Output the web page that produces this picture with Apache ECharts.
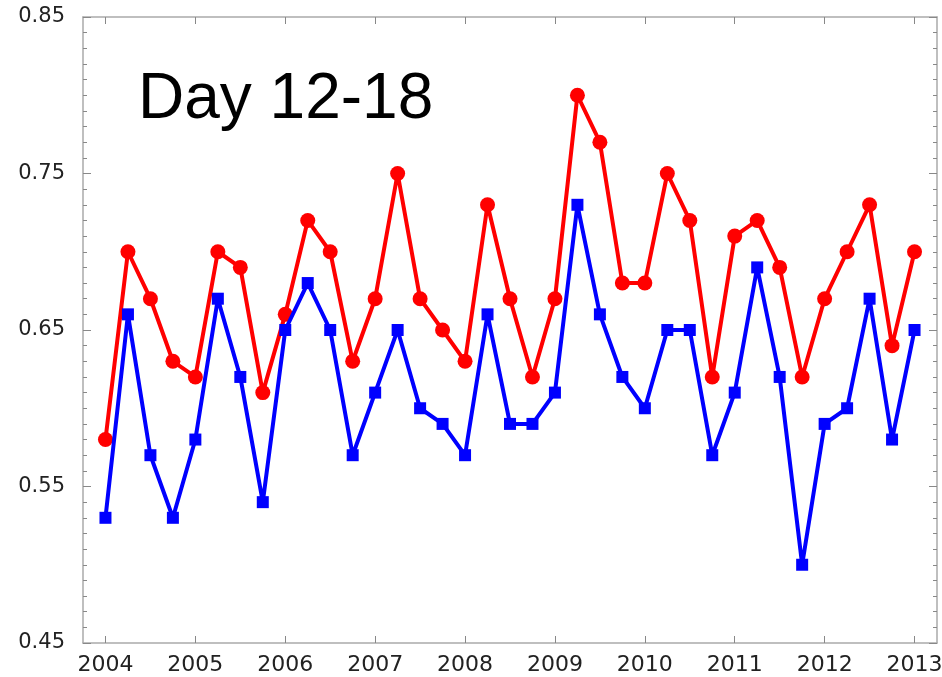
<!DOCTYPE html>
<html>
<head>
<meta charset="utf-8">
<script src="https://cdn.jsdelivr.net/npm/echarts@6/dist/echarts.min.js"></script>
<style>html,body{margin:0;padding:0;background:#fff;}#c{width:942px;height:677px;}</style>
</head>
<body>
<div id="c"></div>
<script>
const titleText = 'Day 12-18';
const quarters = [2004, 2004.25, 2004.5, 2004.75, 2005, 2005.25, 2005.5, 2005.75, 2006, 2006.25, 2006.5, 2006.75,
  2007, 2007.25, 2007.5, 2007.75, 2008, 2008.25, 2008.5, 2008.75, 2009, 2009.25, 2009.5, 2009.75,
  2010, 2010.25, 2010.5, 2010.75, 2011, 2011.25, 2011.5, 2011.75, 2012, 2012.25, 2012.5, 2012.75, 2013];
const redValues = [0.58, 0.70, 0.67, 0.63, 0.62, 0.70, 0.69, 0.61, 0.66, 0.72, 0.70, 0.63,
  0.67, 0.75, 0.67, 0.65, 0.63, 0.73, 0.67, 0.62, 0.67, 0.80, 0.77, 0.68,
  0.68, 0.75, 0.72, 0.62, 0.71, 0.72, 0.69, 0.62, 0.67, 0.70, 0.73, 0.64, 0.70];
const blueValues = [0.53, 0.66, 0.57, 0.53, 0.58, 0.67, 0.62, 0.54, 0.65, 0.68, 0.65, 0.57,
  0.61, 0.65, 0.60, 0.59, 0.57, 0.66, 0.59, 0.59, 0.61, 0.73, 0.66, 0.62,
  0.60, 0.65, 0.65, 0.57, 0.61, 0.69, 0.62, 0.50, 0.59, 0.60, 0.67, 0.58, 0.65];
const yearTicks = [2004, 2005, 2006, 2007, 2008, 2009, 2010, 2011, 2012, 2013];

const chart = echarts.init(document.getElementById('c'), null, {renderer: 'canvas'});
const axisGray = '#aaaaaa';
const tickGray = '#888888';
const labelFont = '"DejaVu Sans", "Liberation Sans", sans-serif';
const baseX = {
  type: 'value', min: 2003.75, max: 2013.25, interval: 0.25,
  axisLine: {show: true, onZero: false, lineStyle: {color: axisGray, width: 1.5}},
  splitLine: {show: false},
};
const baseY = {
  type: 'value', min: 0.45, max: 0.85, interval: 0.1,
  axisLine: {show: true, onZero: false, lineStyle: {color: axisGray, width: 1.5}},
  axisTick: {show: true, inside: true, length: 8, lineStyle: {color: tickGray, width: 1}},
  minorTick: {show: true, splitNumber: 10, length: 4, lineStyle: {color: tickGray, width: 1}},
  splitLine: {show: false},
};
chart.setOption({
  animation: false,
  backgroundColor: '#fff',
  grid: {left: 83, right: 5, top: 17, bottom: 34, containLabel: false, outerBoundsMode: 'none'},
  graphic: [{
    type: 'text', left: 138, top: 68,
    style: {text: titleText, font: '64px "Liberation Sans", Arial, sans-serif', fill: '#000'}
  }],
  xAxis: [
    Object.assign({}, baseX, {
      position: 'bottom',
      axisTick: {show: true, inside: true, length: 7, customValues: yearTicks, lineStyle: {color: tickGray}},
      axisLabel: {show: true, customValues: yearTicks, margin: 11, color: '#222',
        fontFamily: labelFont, fontSize: 22, hideOverlap: false,
        formatter: v => String(Math.round(v))}
    }),
    Object.assign({}, baseX, {
      position: 'top',
      axisTick: {show: true, inside: true, length: 7, customValues: yearTicks, lineStyle: {color: tickGray}},
      axisLabel: {show: false}
    })
  ],
  yAxis: [
    Object.assign({}, baseY, {
      position: 'left',
      axisLabel: {show: true, margin: 18, color: '#222',
        fontFamily: labelFont, fontSize: 21,
        formatter: v => v.toFixed(2)}
    }),
    Object.assign({}, baseY, {
      position: 'right',
      axisLabel: {show: false}
    })
  ],
  series: [
    {
      type: 'line', name: 'red', xAxisIndex: 0, yAxisIndex: 0, z: 2,
      data: quarters.map((q, i) => [q, redValues[i]]),
      symbol: 'circle', symbolSize: 15,
      lineStyle: {color: '#ff0000', width: 4},
      itemStyle: {color: '#ff0000'}
    },
    {
      type: 'line', name: 'blue', xAxisIndex: 0, yAxisIndex: 0, z: 3,
      data: quarters.map((q, i) => [q, blueValues[i]]),
      symbol: 'rect', symbolSize: 12,
      lineStyle: {color: '#0000ff', width: 4},
      itemStyle: {color: '#0000ff'}
    }
  ]
});
</script>
</body>
</html>
